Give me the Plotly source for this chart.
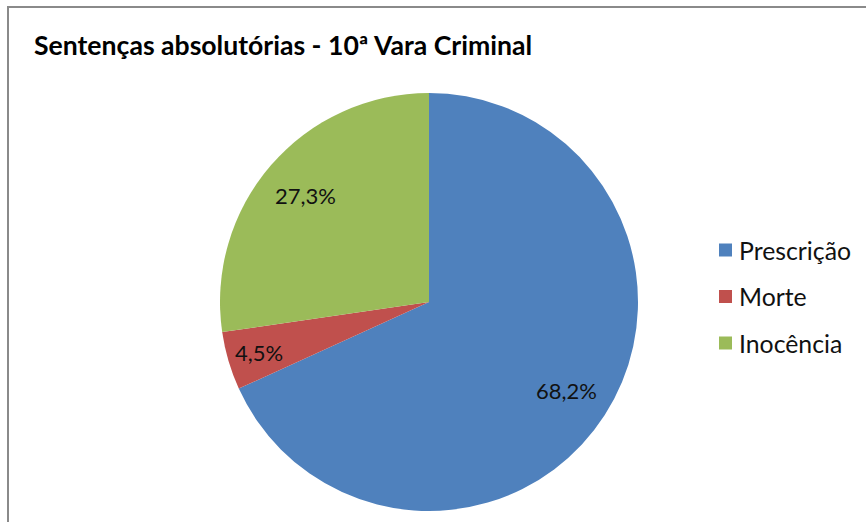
import math
import plotly.graph_objects as go

# Share of acquittal sentences by reason (percent)
categories = ["Prescrição", "Morte", "Inocência"]
shares = [68.2, 4.5, 27.3]
colors = ["#4F81BD", "#C0504D", "#9BBB59"]
title_text = "Sentenças absolutórias - 10ª Vara Criminal"

W, H = 866, 522
cx, cy, r = 429, 302, 209          # pie centre and radius in pixels
FONT = "Lato, 'Open Sans', sans-serif"

fig = go.Figure(go.Pie(
    labels=categories,
    values=shares,
    sort=False,
    direction="clockwise",
    rotation=0,
    marker=dict(colors=colors, line=dict(width=0)),
    textinfo="none",
    hoverinfo="label+percent",
    showlegend=False,
    domain=dict(x=[(cx - r) / W, (cx + r) / W], y=[(H - cy - r) / H, (H - cy + r) / H]),
))

def px(x):
    return x / W

def py(y):
    return 1 - y / H

annotations = []
shapes = []

# percentage labels placed along each slice's mid-angle
total = sum(shares)
start = 0.0
radial = [0.78, 0.85, 0.78]
for val, k in zip(shares, radial):
    mid = (start + val / 2) / total * 2 * math.pi
    start += val
    lx = cx + k * r * math.sin(mid)
    ly = cy - k * r * math.cos(mid)
    annotations.append(dict(
        x=px(lx), y=py(ly), xref="paper", yref="paper",
        text=f"{val:.1f}%".replace(".", ","), showarrow=False,
        font=dict(family=FONT, size=22, color="#111111"),
        xanchor="center", yanchor="middle",
    ))

# legend: coloured square plus label
leg_x, leg_y0, leg_dy, sq = 719, 250, 46.5, 13
for i, (name, col) in enumerate(zip(categories, colors)):
    yy = leg_y0 + i * leg_dy
    shapes.append(dict(
        type="rect", xref="paper", yref="paper",
        x0=px(leg_x), x1=px(leg_x + sq), y0=py(yy - sq / 2), y1=py(yy + sq / 2),
        fillcolor=col, line=dict(width=0),
    ))
    annotations.append(dict(
        x=px(leg_x + sq + 5), y=py(yy), xref="paper", yref="paper",
        text=name, showarrow=False, xanchor="left", yanchor="middle",
        font=dict(family=FONT, size=24.8, color="#111111"),
    ))

# title
annotations.append(dict(
    x=px(32), y=py(45), xref="paper", yref="paper",
    text=f"<b>{title_text}</b>", showarrow=False, xanchor="left", yanchor="middle",
    font=dict(family=FONT, size=26.6, color="#000000"),
))

# chart frame (continues past the right and bottom edges)
shapes.append(dict(
    type="rect", xref="paper", yref="paper",
    x0=px(8), x1=px(W + 20), y0=py(H + 20), y1=py(7),
    line=dict(color="#8A8A8A", width=2), fillcolor="rgba(0,0,0,0)",
))

fig.update_layout(
    width=W, height=H,
    margin=dict(l=0, r=0, t=0, b=0),
    paper_bgcolor="#FFFFFF",
    plot_bgcolor="#FFFFFF",
    annotations=annotations,
    shapes=shapes,
)

fig.write_html("out.html")
